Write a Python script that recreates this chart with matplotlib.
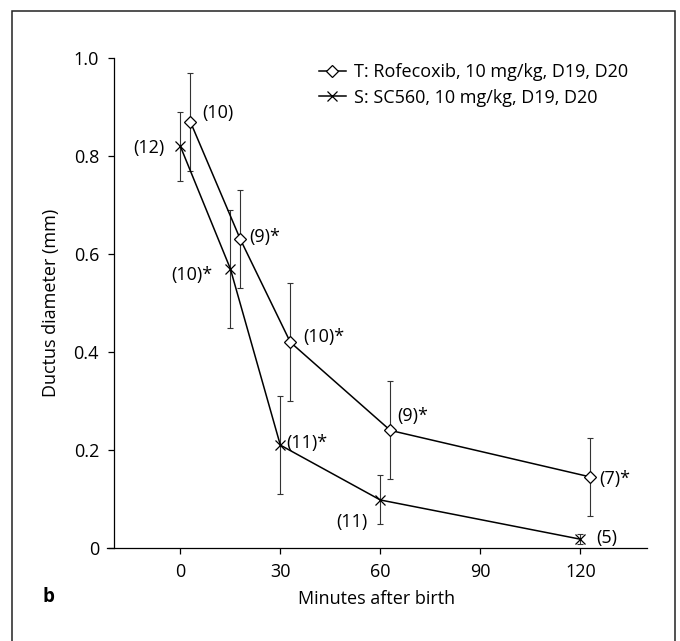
'''
Ductus diameter after birth, rofecoxib vs SC560
'''

import numpy as np
import matplotlib
matplotlib.use('Agg')
import matplotlib.pyplot as plt
from matplotlib.patches import Rectangle
from matplotlib.ticker import FuncFormatter

plt.rcParams['font.family'] = ['Open Sans', 'DejaVu Sans']
plt.rcParams['font.size'] = 13

###########################################
# data

# T: Rofecoxib
tMin = [3, 18, 33, 63, 123]
tDiam = [0.87, 0.63, 0.42, 0.24, 0.145]
tErr = [0.10, 0.10, 0.12, 0.10, 0.08]
tLabs = ['(10)', '(9)*', '(10)*', '(9)*', '(7)*']

# S: SC560
sMin = [0, 15, 30, 60, 120]
sDiam = [0.82, 0.57, 0.21, 0.098, 0.018]
sErr = [0.07, 0.12, 0.10, 0.05, 0.01]
sLabs = ['(12)', '(10)*', '(11)*', '(11)', '(5)']

xTicks = [0, 30, 60, 90, 120]
yTicks = [0, 0.2, 0.4, 0.6, 0.8, 1.0]

# label offsets in points
tOff = [(8.6, 6.3), (6.5, 1.9), (9.1, 3.6), (5, 10.3), (6.7, -1.2)]
sOff = [(-11.5, -1.2), (-13, -4.8), (4.6, 1.7), (-9.4, -15.8), (11.5, 0.7)]
sHa = ['right', 'right', 'left', 'right', 'left']

###########################################

fig = plt.figure(figsize=(6.8, 6.41), dpi=100)
ax = fig.add_axes([107/680, 93/641, 540/680, 490/641])

# error bars first, lines on top
ax.errorbar(tMin, tDiam, yerr=tErr, fmt='none', ecolor='#333333', elinewidth=0.8, capsize=2, capthick=0.8, zorder=1)
ax.errorbar(sMin, sDiam, yerr=sErr, fmt='none', ecolor='#333333', elinewidth=0.8, capsize=2, capthick=0.8, zorder=1)
ax.plot(tMin, tDiam, '-D', color='black', lw=1.1, ms=6.5, mfc='white', mec='black', mew=0.9,
        label='T: Rofecoxib, 10 mg/kg, D19, D20', zorder=3)
ax.plot(sMin, sDiam, '-x', color='black', lw=1.1, ms=7, mew=0.9,
        label='S: SC560, 10 mg/kg, D19, D20', zorder=3)

for i in range(len(tMin)):
  ax.annotate(tLabs[i], (tMin[i], tDiam[i]), xytext=tOff[i], textcoords='offset points',
              ha='left', va='center')
for i in range(len(sMin)):
  ax.annotate(sLabs[i], (sMin[i], sDiam[i]), xytext=sOff[i], textcoords='offset points',
              ha=sHa[i], va='center')

# axes
ax.set_xlim(-22, 140)
ax.set_ylim(0, 1.0)
ax.spines['top'].set_visible(False)
ax.spines['right'].set_visible(False)
ax.spines['left'].set_position(('data', -20))
ax.spines['left'].set_linewidth(0.9)
ax.spines['bottom'].set_linewidth(0.9)
ax.set_xticks(xTicks)
ax.set_yticks(yTicks)
ax.yaxis.set_major_formatter(FuncFormatter(lambda v, p: '0' if v == 0 else '%.1f' % v))
ax.tick_params(direction='out', length=4.5, width=0.9, pad=6)
ax.set_xlabel('Minutes after birth', labelpad=7)
ax.set_ylabel('Ductus diameter (mm)', labelpad=10)

ax.legend(loc='upper left', bbox_to_anchor=(0.375, 1.008), frameon=False, borderpad=0,
          handlelength=1.5, handletextpad=0.45, labelspacing=0.42)

# panel letter and surrounding box
fig.text(43/680, 1-597/641, 'b', fontweight='bold', fontsize=13.5, va='center', ha='left')
fig.patches.append(Rectangle((12/680, -0.05), 663/680, 1.05-11/641, transform=fig.transFigure,
                             fill=False, ec='#222222', lw=1.1))

plt.savefig('out.png', dpi=100)
plt.close()
